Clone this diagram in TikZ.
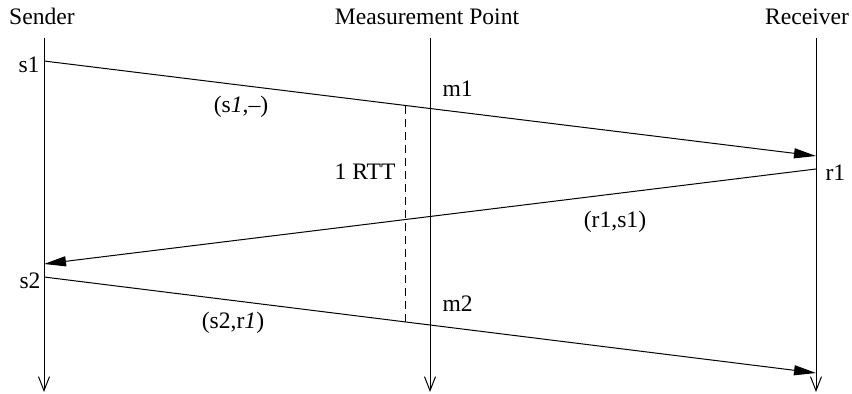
\documentclass[tikz,border=0pt]{standalone}
\usepackage{fontspec}
\setmainfont{Liberation Serif}
\usetikzlibrary{arrows.meta}

\begin{document}
\begin{tikzpicture}[x=0.5pt,y=-0.5pt,line width=0.5pt,
  font=\fontsize{11.8}{14}\selectfont,
  msg/.style={-{Triangle[length=11pt,width=5pt]}},
  life/.style={-{Straight Barb[length=7pt,width=5.5pt]}}]
  \useasboundingbox (0,0) rectangle (852,394);
  % parties
  \node[anchor=base] (snd) at (42,25) {Sender};
  \node[anchor=base] (mp) at (427,25) {Measurement Point};
  \node[anchor=base] (rcv) at (807,25) {Receiver};
  \coordinate (sTop) at (44,38);   \coordinate (sEnd) at (44,392);
  \coordinate (mTop) at (430,38);  \coordinate (mEnd) at (430,392);
  \coordinate (rTop) at (816,38);  \coordinate (rEnd) at (816,392);
  \draw[life] (sTop) -- (sEnd);
  \draw[life] (mTop) -- (mEnd);
  \draw[life] (rTop) -- (rEnd);
  % packets
  \coordinate (s1) at (44,61);
  \coordinate (r1in) at (816,156);
  \coordinate (r1) at (816,169);
  \coordinate (s2in) at (44,264);
  \coordinate (s2) at (44,277);
  \coordinate (r2in) at (816,373);
  \draw[msg] (s1) -- (r1in);
  \draw[msg] (r1) -- (s2in);
  \draw[msg] (s2) -- (r2in);
  % rtt
  \coordinate (rttTop) at (405,106);
  \coordinate (rttBot) at (405,323);
  \draw[dash pattern=on 4pt off 2.5pt] (rttTop) -- (rttBot);
  \node[anchor=base] (rtt) at (365,180) {1 RTT};
  % labels
  \node[anchor=base east,inner sep=0pt] (ls1) at (40,73) {s1};
  \node[anchor=base east,inner sep=0pt] (ls2) at (41,289) {s2};
  \node[anchor=base west,inner sep=0pt] (lr1) at (825,181) {r1};
  \node[anchor=base west,inner sep=0pt] (lm1) at (442,97) {m1};
  \node[anchor=base west,inner sep=0pt] (lm2) at (442,312) {m2};
  \node[anchor=base] (p1) at (241,113) {(s\textit{1},--)};
  \node[anchor=base] (p2) at (615,228) {(r1,s1)};
  \node[anchor=base] (p3) at (233,329) {(s2,r\textit{1})};
\end{tikzpicture}
\end{document}
